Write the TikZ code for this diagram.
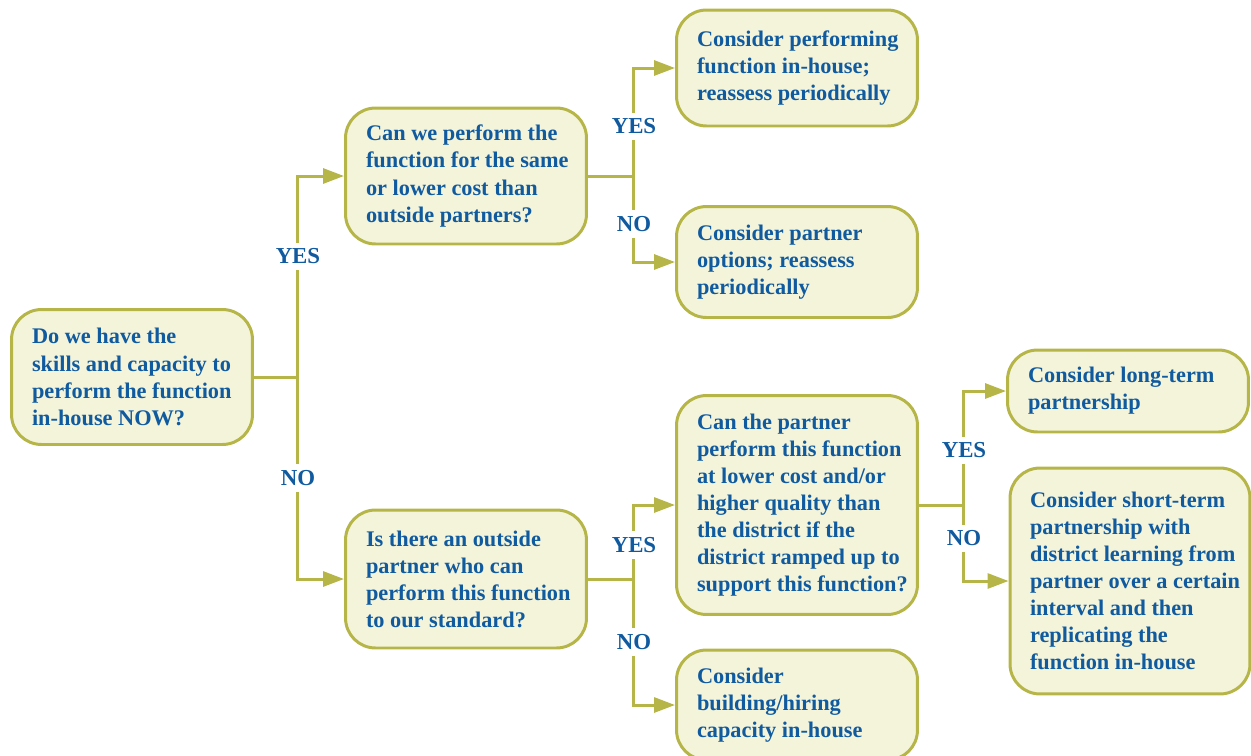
\documentclass[tikz,border=0pt]{standalone}
\usepackage{fontspec}
\setmainfont{Liberation Serif}
\usepackage{tikz}
\usetikzlibrary{calc, positioning, arrows.meta}
\definecolor{boxline}{RGB}{181,181,72}
\definecolor{boxfill}{RGB}{244,244,218}
\definecolor{textblue}{RGB}{16,90,160}
\tikzset{
    question/.style={rectangle, draw=boxline, line width=1.7pt, fill=boxfill, rounded corners=0.6cm, minimum width=4.82cm, text width=4.72cm, align=flush left, inner sep=0pt, execute at begin node={\leftskip=0.36cm\hyphenpenalty=10000}, font=\fontsize{12.7}{15.4}\selectfont\bfseries, text=textblue},
    outcome/.style={question},
    link/.style={draw=boxline, line width=1.7pt},
    arrow/.style={link, -{Triangle[length=0.42cm, width=0.3cm]}},
    answer/.style={fill=white, inner sep=0.12cm, font=\fontsize{13}{15.3}\selectfont\bfseries, text=textblue}
}

\begin{document}
\begin{tikzpicture}[x=0.02cm, y=-0.02cm]
        \useasboundingbox (0,0) rectangle (1251,755);

        % Questions
        \node[question, minimum height=2.7cm] (Skills) at (132,377) {Do we have the\\skills and capacity to\\perform the function\\in-house NOW?};
        \node[question, minimum height=2.72cm] (Cost) at (466,176) {Can we perform the\\function for the same\\or lower cost than\\outside partners?};
        \node[question, minimum height=2.76cm] (Partner) at (466,579) {Is there an outside\\partner who can\\perform this function\\to our standard?};
        \node[question, minimum height=4.38cm] (Quality) at (797,505) {Can the partner\\perform this function\\at lower cost and/or\\higher quality than\\the district if the\\district ramped up to\\support this function?};

        % Outcomes
        \node[outcome, minimum height=2.32cm] (InHouse) at (797,68) {Consider performing\\function in-house;\\reassess periodically};
        \node[outcome, minimum height=2.22cm] (Options) at (797,262) {Consider partner\\options; reassess\\periodically};
        \node[outcome, minimum height=2.2cm] (Build) at (797,705) {Consider\\building/hiring\\capacity in-house};
        \node[outcome, minimum height=1.64cm] (LongTerm) at (1128,391) {Consider long-term\\partnership};
        \node[outcome, minimum height=4.52cm, minimum width=4.8cm] (ShortTerm) at (1130,581) {Consider short-term\\partnership with\\district learning from\\partner over a certain\\interval and then\\replicating the\\function in-house};

        % Split points
        \coordinate (Split1) at ($(Skills.east)+(44,0)$);
        \coordinate (Split2) at ($(Cost.east)+(46,0)$);
        \coordinate (Split3) at ($(Partner.east)+(46,0)$);
        \coordinate (Split4) at ($(Quality.east)+(45,0)$);

        % Connections
        \draw[link] (Skills) -- (Split1);
        \draw[arrow] (Split1) |- node[answer, pos=0.30] {YES} (Cost);
        \draw[arrow] (Split1) |- node[answer, pos=0.25] {NO} (Partner);

        \draw[link] (Cost) -- (Split2);
        \draw[arrow] (Split2) |- node[answer, pos=0.23] {YES} (InHouse);
        \draw[arrow] (Split2) |- node[answer, pos=0.28] {NO} (Options);

        \draw[link] (Partner) -- (Split3);
        \draw[arrow] (Split3) |- node[answer, pos=0.23] {YES} (Quality);
        \draw[arrow] (Split3) |- node[answer, pos=0.25] {NO} (Build);

        \draw[link] (Quality) -- (Split4);
        \draw[arrow] (Split4) |- node[answer, pos=0.24] {YES} (LongTerm);
        \draw[arrow] (Split4) |- node[answer, pos=0.22] {NO} (ShortTerm);

    \end{tikzpicture}
\end{document}
